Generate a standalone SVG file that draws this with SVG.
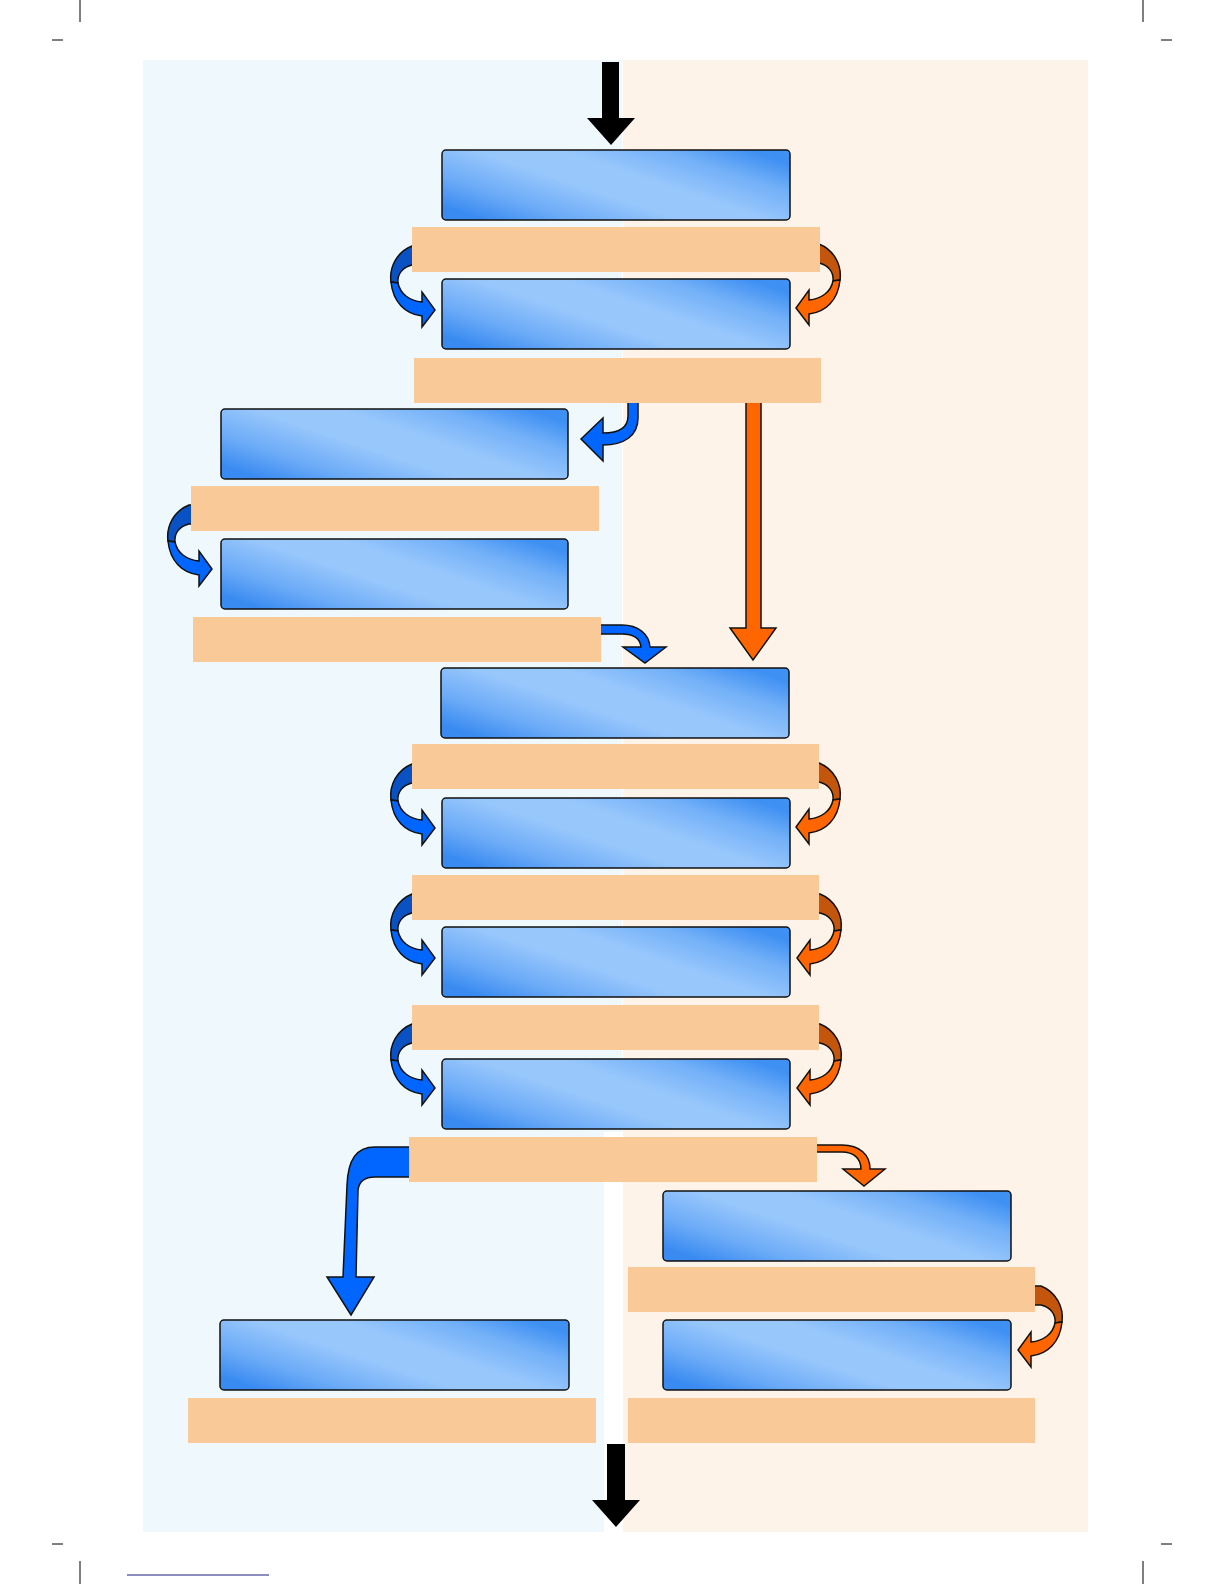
<svg xmlns="http://www.w3.org/2000/svg" xmlns:xlink="http://www.w3.org/1999/xlink" width="1224" height="1584" viewBox="0 0 1224 1584">
<style>
.box{stroke:#111;stroke-width:1.5;fill:url(#bg)}
.bar{fill:#f9c998}
.arr{stroke:#111;stroke-width:1.5;stroke-linejoin:miter}
.crop{stroke:#000;stroke-width:1}
</style>
<defs>
<linearGradient id="bg" x1="0" y1="0.8" x2="1" y2="0.2">
<stop offset="0" stop-color="#3a8bf1"/>
<stop offset="0.18" stop-color="#6aaaf7"/>
<stop offset="0.42" stop-color="#98c7fc"/>
<stop offset="0.6" stop-color="#98c7fc"/>
<stop offset="0.82" stop-color="#72b0f8"/>
<stop offset="1" stop-color="#3f90f3"/>
</linearGradient>
<g id="curveL">
<path class="arr" fill="#0a52c4" d="M -15,-64 L -23,-64 C -38,-58 -46,-43 -44,-28 L -37,-27 C -38,-36 -32,-43 -23,-45 L -15,-45 Z"/>
<path class="arr" fill="#0066ff" d="M -44,-28 C -42,-8 -30,4 -13,6 L -13,17 L 0,0 L -13,-18 L -13,-8 C -25,-9 -35,-16 -37,-27 Z"/>
</g>
<g id="curveR">
<path class="arr" fill="#c4550c" d="M -15,-64 L -23,-64 C -38,-58 -46,-43 -44,-28 L -37,-27 C -38,-36 -32,-43 -23,-45 L -15,-45 Z"/>
<path class="arr" fill="#ff6600" d="M -44,-28 C -42,-8 -30,4 -13,6 L -13,17 L 0,0 L -13,-18 L -13,-8 C -25,-9 -35,-16 -37,-27 Z"/>
</g>
</defs>

<g id="background">
<rect x="143" y="60" width="479" height="1072" fill="#eff9fd"/>
<rect x="143" y="1132" width="461" height="400" fill="#eff9fd"/>
<rect x="623" y="60" width="465" height="1472" fill="#fdf3e9"/>
</g>

<g id="marks">
<line class="crop" x1="80" y1="0" x2="80" y2="22"/>
<line class="crop" x1="52" y1="40" x2="63" y2="40"/>
<line class="crop" x1="1143" y1="0" x2="1143" y2="22"/>
<line class="crop" x1="1161" y1="40" x2="1172" y2="40"/>
<line class="crop" x1="52" y1="1544" x2="63" y2="1544"/>
<line class="crop" x1="80" y1="1561" x2="80" y2="1584"/>
<line class="crop" x1="1161" y1="1544" x2="1172" y2="1544"/>
<line class="crop" x1="1143" y1="1561" x2="1143" y2="1584"/>
<line x1="127" y1="1575" x2="269" y2="1575" stroke="#1a1a80" stroke-width="1"/>
</g>

<g id="connectors">
<path fill="#000" d="M 602,62 L 619,62 L 619,118 L 635,118 L 611,145 L 587,118 L 602,118 Z"/>
<path fill="#000" d="M 607,1444 L 625,1444 L 625,1500 L 640,1500 L 616,1527 L 592,1500 L 607,1500 Z"/>
<use xlink:href="#curveL" transform="translate(435,310)"/>
<use xlink:href="#curveL" transform="translate(212,569)"/>
<use xlink:href="#curveL" transform="translate(435,828)"/>
<use xlink:href="#curveL" transform="translate(435,958)"/>
<use xlink:href="#curveL" transform="translate(435,1088)"/>
<use xlink:href="#curveR" transform="translate(796,308) scale(-1,1)"/>
<use xlink:href="#curveR" transform="translate(796,827) scale(-1,1)"/>
<use xlink:href="#curveR" transform="translate(797,958) scale(-1,1)"/>
<use xlink:href="#curveR" transform="translate(797,1088) scale(-1,1)"/>
<use xlink:href="#curveR" transform="translate(1018,1350) scale(-1,1)"/>
<path class="arr" fill="#ff6600" d="M 746,400 L 761,400 L 761,628 L 776,628 L 753,660 L 730,628 L 746,628 Z"/>
<path class="arr" fill="#0066ff" d="M 628,400 L 638,400 L 638,418 C 638,436 624,445 603,445 L 603,461 L 581,439 L 603,418 L 603,433 C 618,433 628,428 628,416 Z"/>
<path class="arr" fill="#0066ff" d="M 598,625 L 622,625 C 638,625 649,634 650,647 L 666,647 L 645,663 L 623,647 L 641,647 C 640,638 633,634 622,634 L 598,634 Z"/>
<path class="arr" fill="#ff6600" d="M 814,1145 L 842,1145 C 860,1145 870,1155 870,1169 L 885,1169 L 864,1186 L 843,1169 L 861,1169 C 861,1158 853,1152 842,1152 L 814,1152 Z"/>
<path class="arr" fill="#0066ff" d="M 412,1147 L 375,1147 C 356,1147 348,1160 347,1185 L 343,1277 L 327,1277 L 351,1315 L 374,1277 L 356,1277 L 358,1190 C 359,1182 364,1177 375,1177 L 412,1177 Z"/>
</g>

<g id="n1"><rect class="box" x="442" y="150" width="348" height="70" rx="4"/></g>
<g id="l1"><rect class="bar" x="412" y="227" width="408" height="45"/></g>
<g id="n2"><rect class="box" x="442" y="279" width="348" height="70" rx="4"/></g>
<g id="l2"><rect class="bar" x="414" y="358" width="407" height="45"/></g>
<g id="n3"><rect class="box" x="221" y="409" width="347" height="70" rx="4"/></g>
<g id="l3"><rect class="bar" x="191" y="486" width="408" height="45"/></g>
<g id="n4"><rect class="box" x="221" y="539" width="347" height="70" rx="4"/></g>
<g id="l4"><rect class="bar" x="193" y="617" width="408" height="45"/></g>
<g id="n5"><rect class="box" x="441" y="668" width="348" height="70" rx="4"/></g>
<g id="l5"><rect class="bar" x="412" y="744" width="407" height="45"/></g>
<g id="n6"><rect class="box" x="442" y="798" width="348" height="70" rx="4"/></g>
<g id="l6"><rect class="bar" x="412" y="875" width="407" height="45"/></g>
<g id="n7"><rect class="box" x="442" y="927" width="348" height="70" rx="4"/></g>
<g id="l7"><rect class="bar" x="412" y="1005" width="407" height="45"/></g>
<g id="n8"><rect class="box" x="442" y="1059" width="348" height="70" rx="4"/></g>
<g id="l8"><rect class="bar" x="409" y="1137" width="408" height="45"/></g>
<g id="n9"><rect class="box" x="663" y="1191" width="348" height="70" rx="4"/></g>
<g id="l9"><rect class="bar" x="628" y="1267" width="407" height="45"/></g>
<g id="n10"><rect class="box" x="663" y="1320" width="348" height="70" rx="4"/></g>
<g id="l10"><rect class="bar" x="628" y="1398" width="407" height="45"/></g>
<g id="n11"><rect class="box" x="220" y="1320" width="349" height="70" rx="4"/></g>
<g id="l11"><rect class="bar" x="188" y="1398" width="408" height="45"/></g>
</svg>
